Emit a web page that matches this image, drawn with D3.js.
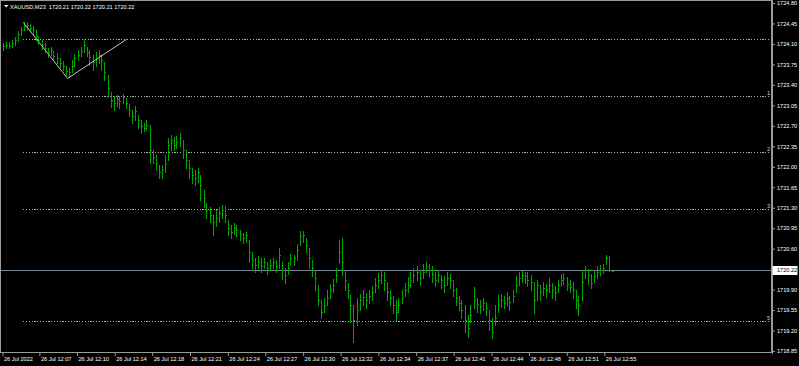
<!DOCTYPE html>
<html>
<head>
<meta charset="utf-8">
<script src="https://cdn.jsdelivr.net/npm/d3@7"></script>
<style>
  body { margin: 0; background: #000; }
  svg { display: block; }
  text { font-family: "Liberation Sans", Arial, sans-serif; }
</style>
</head>
<body>
<div id="chart"></div>
<script>
var w = 799, h = 366;

// header
var symbol = "XAUUSD,M23";
var lastQuote = ["1720.21", "1720.22", "1720.21", "1720.22"];

// bars
var closes = [
  1724.06, 1724.08, 1724.06, 1724.12, 1724.17, 1724.27, 1724.34, 1724.41, 1724.42, 1724.37,
  1724.34, 1724.24, 1724.17, 1724.08, 1724.03, 1723.96, 1724.00, 1723.89, 1723.86, 1723.77,
  1723.72, 1723.64, 1723.62, 1723.72, 1723.86, 1723.91, 1723.98, 1724.08, 1723.96, 1723.88,
  1723.79, 1723.86, 1723.91, 1723.83, 1723.62, 1723.35, 1723.14, 1723.09, 1723.16, 1723.12,
  1723.19, 1723.09, 1722.97, 1722.87, 1722.95, 1722.80, 1722.70, 1722.66, 1722.71, 1722.29,
  1722.17, 1722.06, 1721.91, 1721.94, 1722.05, 1722.37, 1722.46, 1722.37, 1722.42, 1722.49,
  1722.29, 1722.12, 1721.98, 1721.86, 1721.81, 1721.91, 1721.69, 1721.47, 1721.26, 1721.17,
  1721.06, 1721.12, 1721.21, 1721.26, 1721.17, 1720.95, 1720.89, 1720.95, 1720.92, 1720.85,
  1720.78, 1720.83, 1720.54, 1720.41, 1720.32, 1720.37, 1720.30, 1720.37, 1720.27, 1720.32,
  1720.37, 1720.30, 1720.49, 1720.23, 1720.15, 1720.27, 1720.44, 1720.44, 1720.58, 1720.82,
  1720.83, 1720.66, 1720.44, 1720.27, 1720.10, 1719.72, 1719.52, 1719.64, 1719.76, 1719.89,
  1719.98, 1720.15, 1720.54, 1720.37, 1720.06, 1719.89, 1719.64, 1719.38, 1719.55, 1719.72,
  1719.77, 1719.72, 1719.79, 1719.86, 1719.98, 1720.06, 1720.15, 1720.06, 1719.86, 1719.76,
  1719.64, 1719.52, 1719.64, 1719.77, 1719.89, 1719.98, 1720.06, 1720.15, 1720.20, 1720.10,
  1720.20, 1720.30, 1720.23, 1720.17, 1720.06, 1720.15, 1720.06, 1719.98, 1720.10, 1720.06,
  1719.89, 1719.76, 1719.67, 1719.55, 1719.38, 1719.24, 1719.47, 1719.72, 1719.65, 1719.62,
  1719.67, 1719.59, 1719.38, 1719.18, 1719.42, 1719.64, 1719.72, 1719.67, 1719.76, 1719.69,
  1719.79, 1719.98, 1720.10, 1720.15, 1720.13, 1720.06, 1720.03, 1719.72, 1719.98, 1719.86,
  1719.93, 1719.89, 1719.98, 1719.89, 1719.86, 1719.98, 1720.06, 1720.10, 1720.00, 1719.94,
  1719.89, 1719.72, 1719.64, 1720.03, 1720.23, 1720.15, 1720.01, 1720.13, 1720.20, 1720.23,
  1720.27, 1720.44, 1720.24, 1720.22
];
var highs = [
  1724.12, 1724.13, 1724.13, 1724.17, 1724.22, 1724.32, 1724.39, 1724.48, 1724.48, 1724.44,
  1724.41, 1724.34, 1724.24, 1724.17, 1724.12, 1724.03, 1724.05, 1723.98, 1723.94, 1723.86,
  1723.81, 1723.72, 1723.69, 1723.83, 1723.93, 1724.00, 1724.05, 1724.18, 1724.05, 1724.00,
  1723.91, 1723.96, 1724.00, 1723.93, 1723.79, 1723.57, 1723.28, 1723.21, 1723.23, 1723.21,
  1723.24, 1723.18, 1723.07, 1722.97, 1723.04, 1722.89, 1722.80, 1722.75, 1722.80, 1722.71,
  1722.29, 1722.20, 1722.03, 1722.03, 1722.20, 1722.49, 1722.54, 1722.51, 1722.53, 1722.58,
  1722.46, 1722.29, 1722.12, 1721.98, 1721.94, 1721.98, 1721.86, 1721.60, 1721.38, 1721.31,
  1721.17, 1721.26, 1721.31, 1721.35, 1721.33, 1721.09, 1721.00, 1721.04, 1721.00, 1720.92,
  1720.87, 1720.89, 1720.75, 1720.54, 1720.44, 1720.47, 1720.44, 1720.44, 1720.37, 1720.42,
  1720.44, 1720.41, 1720.61, 1720.37, 1720.27, 1720.37, 1720.51, 1720.49, 1720.68, 1720.90,
  1720.90, 1720.78, 1720.61, 1720.41, 1720.23, 1719.98, 1719.72, 1719.76, 1719.89, 1720.00,
  1720.08, 1720.27, 1720.75, 1720.78, 1720.23, 1720.01, 1719.81, 1719.64, 1719.76, 1719.83,
  1719.89, 1719.84, 1719.89, 1719.96, 1720.10, 1720.18, 1720.23, 1720.20, 1720.03, 1719.89,
  1719.79, 1719.72, 1719.76, 1719.89, 1720.01, 1720.11, 1720.20, 1720.27, 1720.30, 1720.23,
  1720.34, 1720.37, 1720.34, 1720.30, 1720.20, 1720.23, 1720.15, 1720.13, 1720.20, 1720.17,
  1720.06, 1719.93, 1719.79, 1719.72, 1719.64, 1719.47, 1719.64, 1719.94, 1719.76, 1719.72,
  1719.76, 1719.69, 1719.55, 1719.42, 1719.64, 1719.81, 1719.83, 1719.79, 1719.86, 1719.79,
  1719.89, 1720.13, 1720.20, 1720.22, 1720.20, 1720.20, 1720.15, 1720.03, 1720.06, 1719.98,
  1720.03, 1720.00, 1720.10, 1720.01, 1719.96, 1720.06, 1720.17, 1720.18, 1720.11, 1720.06,
  1720.03, 1719.89, 1719.79, 1720.23, 1720.30, 1720.25, 1720.17, 1720.22, 1720.30, 1720.32,
  1720.34, 1720.49, 1720.47, 1720.22
];
var lows = [
  1724.00, 1724.03, 1724.03, 1724.05, 1724.08, 1724.15, 1724.25, 1724.34, 1724.36, 1724.32,
  1724.27, 1724.17, 1724.10, 1724.01, 1723.96, 1723.88, 1723.91, 1723.83, 1723.77, 1723.71,
  1723.65, 1723.57, 1723.53, 1723.62, 1723.72, 1723.83, 1723.89, 1723.96, 1723.89, 1723.74,
  1723.65, 1723.72, 1723.77, 1723.65, 1723.48, 1723.19, 1723.02, 1722.97, 1723.04, 1723.00,
  1723.09, 1723.00, 1722.87, 1722.75, 1722.80, 1722.66, 1722.58, 1722.61, 1722.63, 1722.06,
  1722.06, 1721.94, 1721.81, 1721.81, 1721.91, 1722.12, 1722.29, 1722.29, 1722.32, 1722.35,
  1722.15, 1721.98, 1721.81, 1721.72, 1721.69, 1721.74, 1721.43, 1721.31, 1721.12, 1721.06,
  1720.83, 1720.99, 1721.06, 1721.12, 1721.06, 1720.83, 1720.78, 1720.85, 1720.82, 1720.75,
  1720.70, 1720.71, 1720.37, 1720.27, 1720.20, 1720.27, 1720.20, 1720.27, 1720.17, 1720.23,
  1720.27, 1720.20, 1720.27, 1720.08, 1720.01, 1720.17, 1720.32, 1720.32, 1720.41, 1720.66,
  1720.71, 1720.54, 1720.27, 1720.13, 1719.89, 1719.64, 1719.42, 1719.52, 1719.64, 1719.76,
  1719.86, 1720.03, 1720.37, 1720.15, 1719.89, 1719.76, 1719.35, 1719.00, 1719.30, 1719.55,
  1719.64, 1719.59, 1719.67, 1719.72, 1719.86, 1719.93, 1720.01, 1719.89, 1719.72, 1719.64,
  1719.50, 1719.38, 1719.52, 1719.67, 1719.79, 1719.86, 1719.94, 1720.03, 1720.06, 1719.98,
  1720.10, 1720.20, 1720.13, 1720.03, 1719.96, 1720.03, 1719.93, 1719.86, 1719.98, 1719.93,
  1719.79, 1719.64, 1719.55, 1719.42, 1719.18, 1719.09, 1719.35, 1719.59, 1719.52, 1719.50,
  1719.55, 1719.47, 1719.21, 1719.07, 1719.30, 1719.52, 1719.60, 1719.59, 1719.64, 1719.55,
  1719.69, 1719.86, 1719.98, 1720.03, 1720.01, 1719.96, 1719.89, 1719.50, 1719.72, 1719.72,
  1719.81, 1719.77, 1719.86, 1719.76, 1719.72, 1719.86, 1719.96, 1720.00, 1719.89, 1719.86,
  1719.76, 1719.59, 1719.47, 1719.72, 1720.10, 1720.00, 1719.93, 1720.03, 1720.10, 1720.15,
  1720.18, 1720.34, 1720.22, 1720.21
];

// price axis
var priceTicks = [1724.80, 1724.45, 1724.10, 1723.75, 1723.40, 1723.05, 1722.70, 1722.35, 1722.00,
  1721.65, 1721.30, 1720.95, 1720.60, 1720.25, 1719.90, 1719.55, 1719.20, 1718.85];
var bid = 1720.22;

// time axis (labels sit at these bar positions)
var timeLabels = ["26 Jul 2022", "26 Jul 12:07", "26 Jul 12:10", "26 Jul 12:14", "26 Jul 12:18",
  "26 Jul 12:21", "26 Jul 12:24", "26 Jul 12:27", "26 Jul 12:30", "26 Jul 12:32", "26 Jul 12:34",
  "26 Jul 12:37", "26 Jul 12:41", "26 Jul 12:44", "26 Jul 12:48", "26 Jul 12:51", "26 Jul 12:55"];
var labelBars = [0, 12.3, 24.8, 37.4, 49.9, 62.5, 75.1, 87.6, 100.2, 112.7, 125.3, 137.9, 150.4,
  163.0, 175.5, 188.1, 200.6];

// fibo expansion
var fiboLevels = [1724.18, 1723.215, 1722.25, 1721.285, 1719.355];
var fiboNames = ["", "1", "2", "3", "5"];
var zigzagBars = [6.9, 21.7, 41.4];
var zigzagPrices = [1724.47, 1723.51, 1724.18];

var plotRight = 772, plotBottom = 353;
var fontSize = 5.6;

var svg = d3.select("#chart").append("svg")
  .attr("width", w)
  .attr("height", h)
  .style("background", "#000");

var x = d3.scaleLinear().domain([0, closes.length - 1]).range([2.5, 611.5]);
var y = d3.scaleLinear().domain([1718.85, 1724.80]).range([351, 3]);

// frame
svg.append("rect")
  .attr("x", 0.5).attr("y", 0.5)
  .attr("width", plotRight - 1).attr("height", plotBottom - 1)
  .attr("fill", "none")
  .attr("stroke", "#9a9a9a");

// fibo levels
var fibo = svg.append("g");
fibo.selectAll("line")
  .data(fiboLevels)
  .join("line")
    .attr("x1", x(zigzagBars[0]))
    .attr("x2", plotRight - 1)
    .attr("y1", function(d){ return Math.round(y(d)) + 0.5; })
    .attr("y2", function(d){ return Math.round(y(d)) + 0.5; })
    .attr("stroke", "#b0b0b0")
    .attr("stroke-dasharray", "1.2,1.6")
    .attr("shape-rendering", "crispEdges");
fibo.selectAll("text")
  .data(fiboLevels)
  .join("text")
    .attr("x", plotRight - 2)
    .attr("y", function(d){ return Math.round(y(d)) - 1; })
    .attr("text-anchor", "end")
    .attr("font-size", fontSize)
    .attr("fill", "#d0d0d0")
    .text(function(d, i){ return fiboNames[i]; });

// bid line
var bidY = Math.floor(y(bid)) + 0.5;
svg.append("line")
  .attr("x1", 1).attr("x2", plotRight)
  .attr("y1", bidY).attr("y2", bidY)
  .attr("stroke", "#778899")
  .attr("shape-rendering", "crispEdges");

// bars
svg.append("g")
  .attr("stroke", "#00a500")
  .attr("fill", "none")
  .attr("shape-rendering", "crispEdges")
  .selectAll("path")
  .data(closes)
  .join("path")
    .attr("d", function(c, i){
      var cx = Math.round(x(i)) + 0.5;
      var yh = Math.round(y(highs[i]));
      var yl = Math.round(y(lows[i]));
      var yc = Math.round(y(c)) + 0.5;
      return "M" + cx + "," + yh + "V" + (yl + 1) + "M" + (cx - 0.5) + "," + yc + "h2";
    });

// zigzag of the fibo tool
var zig = zigzagBars.map(function(b, i){ return [b, zigzagPrices[i]]; });
svg.append("path")
  .datum(zig)
  .attr("d", d3.line().x(function(d){ return x(d[0]); }).y(function(d){ return y(d[1]); }))
  .attr("fill", "none")
  .attr("stroke", "#c4c4c4")
  .attr("stroke-width", 1);

// price axis
var yAxis = svg.append("g")
  .attr("transform", "translate(" + plotRight + ",0)")
  .call(d3.axisRight(y).tickValues(priceTicks).tickSize(3).tickPadding(2)
    .tickFormat(d3.format(".2f")));
yAxis.select(".domain").remove();
yAxis.selectAll("line").attr("stroke", "#9a9a9a");
yAxis.selectAll("text").attr("font-size", fontSize).attr("fill", "#fff")
  .attr("font-family", "Liberation Sans, Arial, sans-serif");
svg.append("line")
  .attr("x1", plotRight + 0.5).attr("x2", plotRight + 0.5)
  .attr("y1", 0).attr("y2", plotBottom + 1)
  .attr("stroke", "#9a9a9a");

// bid label
svg.append("rect")
  .attr("x", plotRight + 0.5).attr("y", bidY - 4.5)
  .attr("width", 25).attr("height", 9)
  .attr("fill", "#fff");
svg.append("text")
  .attr("x", plotRight + 5).attr("y", bidY)
  .attr("dy", "0.35em")
  .attr("font-size", fontSize)
  .attr("fill", "#000")
  .text(d3.format(".2f")(bid));

// time axis
var xAxis = svg.append("g")
  .attr("transform", "translate(0," + plotBottom + ")")
  .call(d3.axisBottom(x).tickValues(labelBars).tickSize(3).tickPadding(1.5)
    .tickFormat(function(d, i){ return timeLabels[i]; }));
xAxis.select(".domain").remove();
xAxis.selectAll("line").attr("stroke", "#9a9a9a");
xAxis.selectAll("text")
  .attr("font-size", fontSize)
  .attr("fill", "#fff")
  .attr("font-family", "Liberation Sans, Arial, sans-serif")
  .attr("text-anchor", "start")
  .attr("x", 1);

// header
svg.append("path")
  .attr("d", "M4,5h4.5l-2.25,2.5z")
  .attr("fill", "#fff");
svg.append("text")
  .attr("x", 10).attr("y", 8.5)
  .attr("font-size", fontSize)
  .attr("fill", "#fff")
  .style("white-space", "pre")
  .text(symbol + "  " + lastQuote.join(" "));
</script>
</body>
</html>
